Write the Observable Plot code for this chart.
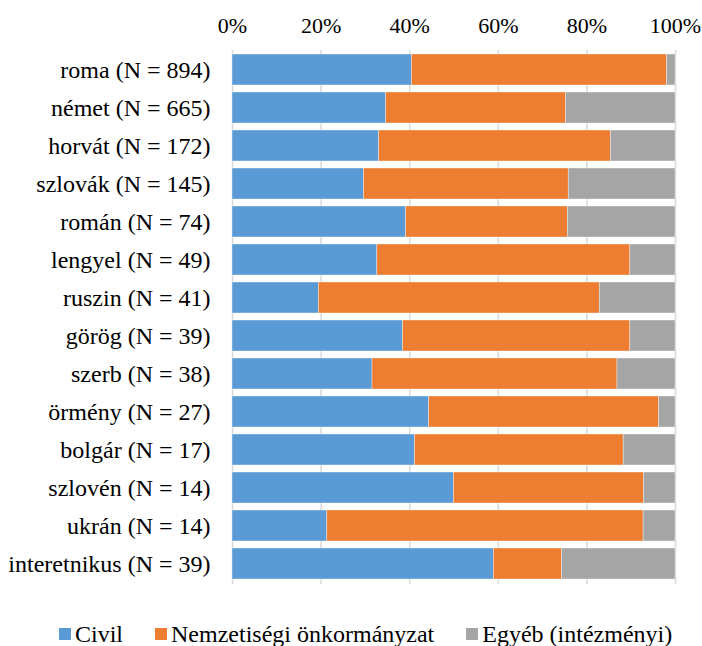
<!DOCTYPE html>
<html>
<head>
<meta charset="utf-8">
<script src="https://cdn.jsdelivr.net/npm/d3@7"></script>
<script src="https://cdn.jsdelivr.net/npm/@observablehq/plot@0.6"></script>
<style>
  body { margin: 0; background: #fff; font-family: 'Liberation Serif', serif; }
  #legend { display: flex; align-items: center; padding-left: 59px; margin-top: 22px; font-size: 24px; line-height: 24px; color: #000; white-space: nowrap; font-family: 'Liberation Serif', serif; }
  .item { display: flex; align-items: center; margin-right: 32px; flex-shrink: 0; }
  .sw { width: 12px; height: 12px; margin-right: 4px; flex-shrink: 0; }
</style>
</head>
<body>
<div id="chart"></div>
<script>
const categories = ["roma (N = 894)", "német (N = 665)", "horvát (N = 172)", "szlovák (N = 145)", "román (N = 74)", "lengyel (N = 49)", "ruszin (N = 41)", "görög (N = 39)", "szerb (N = 38)", "örmény (N = 27)", "bolgár (N = 17)", "szlovén (N = 14)", "ukrán (N = 14)", "interetnikus (N = 39)"];
const seriesNames = ["Civil", "Nemzetiségi önkormányzat", "Egyéb (intézményi)"];
const civil = [40.5, 34.7, 33.1, 29.7, 39.2, 32.7, 19.5, 38.5, 31.6, 44.4, 41.2, 50.0, 21.4, 59.0];
const onkormanyzat = [57.6, 40.6, 52.3, 46.2, 36.5, 57.1, 63.4, 51.3, 55.3, 51.9, 47.1, 42.9, 71.4, 15.4];
const egyeb = [1.9, 24.7, 14.6, 24.1, 24.3, 10.2, 17.1, 10.2, 13.1, 3.7, 11.7, 7.1, 7.2, 25.6];
const colors = ["#5B9BD5", "#ED7D31", "#A5A5A5"];
const xTicks = [0, 20, 40, 60, 80, 100];

const seriesValues = [civil, onkormanyzat, egyeb];
const data = [];
seriesNames.forEach((s, si) => {
  categories.forEach((c, ci) => data.push({cat: c, series: s, value: seriesValues[si][ci]}));
});

const FONT = "'Liberation Serif', serif";

const chart = Plot.plot({
  width: 702,
  height: 600,
  marginTop: 50,
  marginBottom: 16,
  marginLeft: 232,
  marginRight: 27,
  style: "font-family: 'Liberation Serif', serif; font-size: 22px; color: #000; background: #fff;",
  x: {domain: [0, 100], label: null},
  y: {domain: categories, label: null, paddingInner: 0.18, paddingOuter: 0.09},
  color: {domain: seriesNames, range: colors},
  marks: [
    Plot.gridX(xTicks, {stroke: "#d9d9d9", strokeOpacity: 1, strokeWidth: 1.5}),
    Plot.barX(data, Plot.stackX({x: "value", y: "cat", fill: "series", order: seriesNames, stroke: "#fff", strokeWidth: 0.6, strokeOpacity: 0.6})),
    Plot.axisX(xTicks, {anchor: "top", tickFormat: d => d + "%", tickSize: 0, tickPadding: 18, fontFamily: FONT, fontSize: 22, fill: "#000", label: null}),
    Plot.axisY({tickSize: 0, tickPadding: 22, fontFamily: FONT, fontSize: 24, fill: "#000", label: null})
  ]
});
document.getElementById("chart").appendChild(chart);

const legend = document.createElement("div");
legend.id = "legend";
seriesNames.forEach((s, i) => {
  const it = document.createElement("div");
  it.className = "item";
  const sw = document.createElement("span");
  sw.className = "sw";
  sw.style.background = colors[i];
  const t = document.createElement("span");
  t.textContent = s;
  it.appendChild(sw);
  it.appendChild(t);
  legend.appendChild(it);
});
document.getElementById("chart").appendChild(legend);
</script>
</body>
</html>
